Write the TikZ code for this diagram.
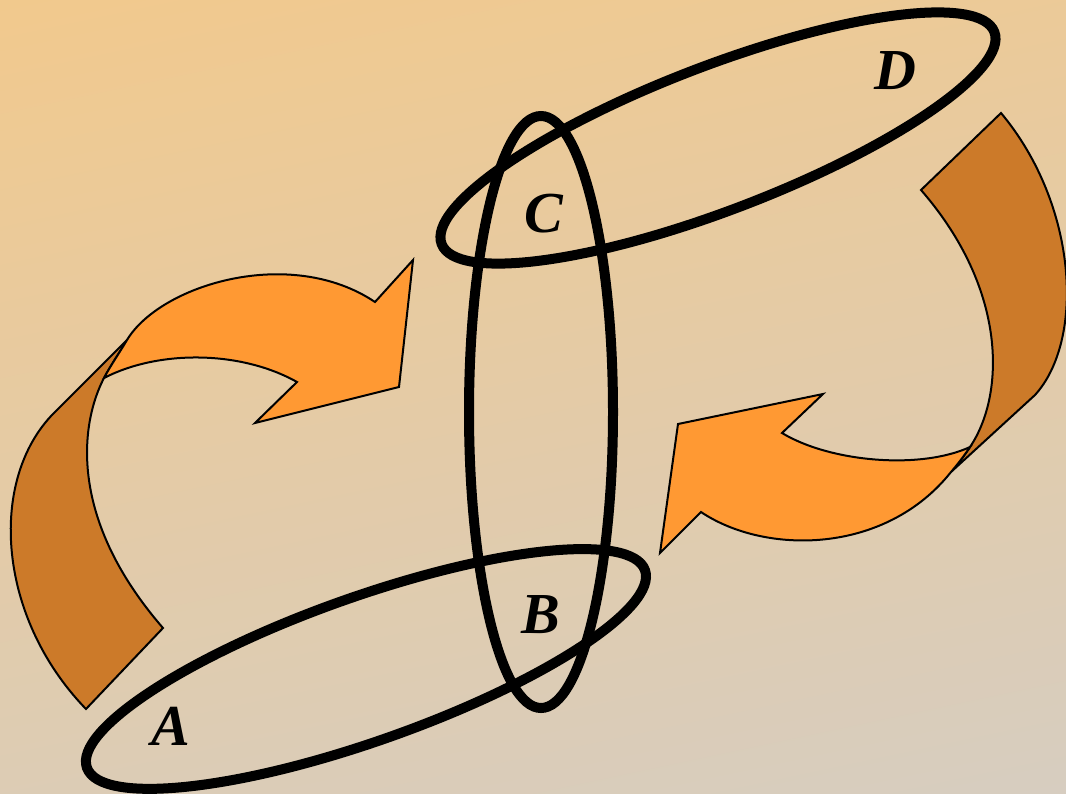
\documentclass[tikz,border=0pt]{standalone}
\usepackage{fontspec}
\setmainfont{Liberation Serif}
\definecolor{bgtop}{HTML}{F2C98C}
\definecolor{bgbot}{HTML}{D6CDC1}
\definecolor{arrlight}{HTML}{FF9933}
\definecolor{arrdark}{HTML}{CC7A29}
\begin{document}
\begin{tikzpicture}[x=1pt,y=-1pt,
  ring/.style={line width=10pt, draw=black},
  band/.style={fill=arrdark, draw=black, line width=2pt, line join=miter},
  head/.style={fill=arrlight, draw=black, line width=2pt, line join=miter},
  lbl/.style={font=\fontsize{58}{60}\selectfont\bfseries\itshape, inner sep=0pt}]
\useasboundingbox (0,0) rectangle (1066,793);
\clip (0,0) rectangle (1066,793);
\shade[top color=bgtop, bottom color=bgbot, shading angle=12] (-100,-100) rectangle (1166,893);

% left twisted arrow
\path[band] (86,709) -- (163,628)
  .. controls (65,515) and (82,420) .. (104,378)
  .. controls (110.5,365.6) and (120,352) .. (127,340)
  -- (57,410) .. controls (-12,475) and (-5,615) .. (86,709) -- cycle;
\path[head] (104,378) .. controls (158,350) and (240,350) .. (297,382)
  -- (255,423) -- (399,387) -- (413,260) -- (375,302)
  .. controls (290,245) and (160,285) .. (127,340)
  .. controls (120,352) and (110.5,365.6) .. (104,378) -- cycle;

% right twisted arrow
\path[band] (1001,113) -- (921,190)
  .. controls (1008,290) and (1005,395) .. (970,447)
  .. controls (963.3,457) and (957,465) .. (951,472)
  -- (1035,395) .. controls (1085,340) and (1078,205) .. (1001,113) -- cycle;
\path[head] (970,447) .. controls (920,470) and (830,462) .. (782,433)
  -- (823,394) -- (678,424) -- (660,553) -- (701,512)
  .. controls (765,555) and (885,555) .. (951,472)
  .. controls (957,465) and (963.3,457) .. (970,447) -- cycle;

% rings
\coordinate (cv) at (541,412);
\coordinate (ct) at (718,138);
\coordinate (cb) at (366,669);
\draw[ring] (cv) ellipse [x radius=72pt, y radius=296pt];
\draw[ring, rotate around={21:(ct)}] (ct) ellipse [x radius=296pt, y radius=72pt];
\draw[ring, rotate around={19.5:(cb)}] (cb) ellipse [x radius=296pt, y radius=72pt];

% labels
\node[lbl] (C) at (544,214) {C};
\node[lbl] (D) at (895,71) {D};
\node[lbl] (B) at (541,615) {B};
\node[lbl] (A) at (171,726) {A};
\end{tikzpicture}
\end{document}
